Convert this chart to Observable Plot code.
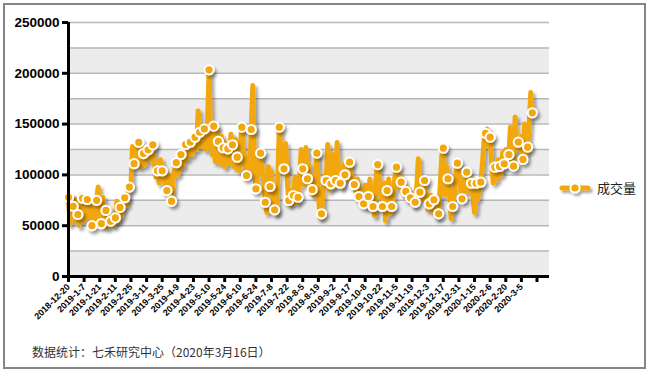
<!DOCTYPE html>
<html>
<head>
<meta charset="utf-8">
<script src="https://cdn.jsdelivr.net/npm/d3@7"></script>
<script src="https://cdn.jsdelivr.net/npm/@observablehq/plot@0.6"></script>
<style>
  html, body { margin: 0; padding: 0; background: #fff; }
  #wrap { position: relative; width: 648px; height: 372px; overflow: hidden; }
  #frame { position: absolute; left: 3px; top: 3px; width: 643px; height: 366px; box-sizing: border-box; border: 2px solid #858585; }
  #chart { position: absolute; left: 0; top: 0; }
  #legend { position: absolute; left: 559px; top: 178px; display: flex; align-items: center; font-family: "Noto Sans CJK SC", sans-serif; font-size: 13px; color: #222; }
  #legend svg { margin-right: 6px; overflow: visible; }
  #caption { position: absolute; left: 32px; top: 343px; font-family: "Noto Sans CJK SC", "Liberation Sans", sans-serif; font-size: 12px; color: #333; }
</style>
</head>
<body>
<div id="wrap">
  <div id="frame"></div>
  <div id="chart"></div>
  <div id="legend"></div>
  <div id="caption"></div>
</div>
<script>
// daily trading volume (成交量), one value per trading day, 2018-12-20 .. 2020-03-16
const volume = [
  78000, 52000, 72000,   69000, 76000, 55000,   61000, 50000, 80000,   77000, 55000, 62000,
  75800, 58000, 70000,   50000, 66000, 55000,   75000, 88000, 60000,   52000, 78000, 50000,
  65000, 48000, 62000,   54500, 60000, 50000,   57800, 74000, 55000,   68000, 60000, 80000,
  77500, 70000, 82000,   88000, 90000, 128000,  111000, 125000, 112000, 132000, 108000, 128000,
  121000, 110000, 126000, 124700, 115000, 120000, 129600, 112000, 98000, 104000, 92000, 115000,
  104000, 96000, 90000,  84600, 100000, 80000,  74100, 95000, 106000,  112000, 100000, 113000,
  120000, 108000, 123000, 130000, 116000, 128000, 132200, 120000, 131000, 137100, 125000, 163000,
  142000, 128000, 140000, 145300, 125000, 150000, 203400, 130000, 120000, 148000, 113000, 146000,
  132900, 112000, 138000, 126700, 108000, 130000, 125700, 112000, 140000, 129600, 108000, 135000,
  117400, 104000, 128000, 147000, 125000, 108000, 99400, 118000, 100000, 144700, 188000, 110000,
  86300, 100000, 112000, 121400, 104000, 95000,  73100, 63000, 108000,  88600, 103000, 75000,
  65600, 62000, 95000,   147000, 125000, 122000, 106000, 131000, 96000,  74800, 71000, 85000,
  79700, 98000, 72000,   78000, 96000, 125000,  106000, 90000, 127000,  96200, 110000, 92000,
  85600, 80000, 100000,  121400, 85000, 58000,  61700, 85000, 100000,  94500, 130000, 85000,
  91200, 120000, 88000,  94500, 132000, 95000,  91800, 88000, 110000,  100100, 95000, 104000,
  112500, 100000, 96000, 90500, 84000, 96000,   78700, 72000, 85000,   71500, 90000, 68000,
  78700, 96000, 74000,   68900, 60000, 100000,  110200, 96000, 80000,  68900, 92000, 55000,
  84600, 96000, 62000,   68900, 80000, 98000,   107600, 88000, 100000, 92800, 82000, 90000,
  83700, 76000, 86000,   77500, 80000, 70000,   73100, 88000, 116000,  83000, 76000, 90000,
  94500, 80000, 66000,   71500, 80000, 64000,   75500, 72000, 58000,   61700, 90000, 118000,
  126300, 80000, 108000, 96200, 84000, 57000,   68900, 80000, 100000,  111500, 107000, 88000,
  76500, 95000, 84000,   102700, 84000, 97000,  91800, 78000, 63000,   91800, 76000, 88000,
  92800, 110000, 132000, 141000, 145000, 128000, 137100, 110000, 92000, 107600, 95000, 115000,
  108300, 100000, 122000, 110900, 125000, 110000, 120000, 147000, 118000, 108600, 157000, 125000,
  132200, 125000, 138000, 115200, 150000, 120000, 127300, 150000, 181000, 161100
];

// category-axis tick labels (every 10 trading days)
const tickLabels = [
  "2018-12-20", "2019-1-7", "2019-1-21", "2019-2-11", "2019-2-25", "2019-3-11",
  "2019-3-25", "2019-4-9", "2019-4-23", "2019-5-10", "2019-5-24", "2019-6-10",
  "2019-6-24", "2019-7-8", "2019-7-22", "2019-8-5", "2019-8-19", "2019-9-2",
  "2019-9-17", "2019-10-8", "2019-10-22", "2019-11-5", "2019-11-19", "2019-12-3",
  "2019-12-17", "2019-12-31", "2020-1-15", "2020-2-6", "2020-2-20", "2020-3-5"
];
const xTicks = d3.range(0, 301, 10);
const xDomain = [0, 308];
const yDomain = [0, 250000];
const yTicks = [0, 50000, 100000, 150000, 200000, 250000];
const gridValues = [25000, 50000, 75000, 100000, 125000, 150000, 175000, 200000, 225000, 250000];
const bandStarts = [0, 50000, 100000, 150000, 200000];
const seriesName = "成交量";
const caption = "数据统计：七禾研究中心（2020年3月16日）";
const orange = "#F2A70E";

const data = volume.map((v, i) => ({i, v}));

const chart = Plot.plot({
  width: 648,
  height: 340,
  marginLeft: 68,
  marginRight: 99,
  marginTop: 22,
  marginBottom: 64,
  style: {fontFamily: "'Liberation Sans', Arial, sans-serif", fontWeight: "bold", fontSize: "13px", color: "#000", background: "transparent"},
  x: {domain: xDomain},
  y: {domain: yDomain},
  marks: [
    Plot.rectY(bandStarts, {y1: d => d, y2: d => d + 25000, fill: "#ececec"}),
    Plot.ruleY(gridValues, {stroke: "#b8b8b8", strokeWidth: 1.5}),
    Plot.line(data, {x: "i", y: "v", stroke: orange, strokeWidth: 5, strokeLinejoin: "round", strokeLinecap: "round"}),
    Plot.dot(data.filter((d, i) => i % 3 === 0), {x: "i", y: "v", r: 4.6, fill: orange, stroke: "#fff", strokeWidth: 2}),
    Plot.ruleX([0], {stroke: "#000", strokeWidth: 3}),
    Plot.ruleY([0], {stroke: "#000", strokeWidth: 3}),
    Plot.axisY({ticks: yTicks, tickSize: 6, tickPadding: 3, strokeWidth: 3, fontSize: 13.5, fontWeight: "bold", tickFormat: d => String(d), label: null}),
    Plot.axisX({ticks: xTicks, tickSize: 6, tickPadding: 3, strokeWidth: 3, tickRotate: -45, fontSize: 9, fontWeight: "bold",
      tickFormat: d => tickLabels[d / 10] ?? "", label: null})
  ]
});

// drop shadow like the original
const ns = "http://www.w3.org/2000/svg";
const defs = document.createElementNS(ns, "defs");
defs.innerHTML = '<filter id="shadow" x="-10%" y="-10%" width="130%" height="130%"><feDropShadow dx="2.5" dy="3" stdDeviation="1.5" flood-color="#000" flood-opacity="0.35"/></filter>';
chart.insertBefore(defs, chart.firstChild);
const lineG = chart.querySelector('g[aria-label="line"]');
if (lineG) lineG.setAttribute("filter", "url(#shadow)");
const dotG = chart.querySelector('g[aria-label="dot"]');
if (dotG) dotG.setAttribute("filter", "url(#shadow)");

document.getElementById("chart").appendChild(chart);

// legend
const legend = document.getElementById("legend");
legend.innerHTML = `<svg width="32" height="16"><defs><filter id="shadow2" x="-20%" y="-40%" width="150%" height="200%"><feDropShadow dx="2" dy="2.5" stdDeviation="1.3" flood-color="#000" flood-opacity="0.35"/></filter></defs>
  <g filter="url(#shadow2)"><line x1="3" y1="8" x2="29" y2="8" stroke="${orange}" stroke-width="5" stroke-linecap="round"/>
  <circle cx="16" cy="8" r="4.6" fill="${orange}" stroke="#fff" stroke-width="2"/></g></svg><span>${seriesName}</span>`;
document.getElementById("caption").textContent = caption;
</script>
</body>
</html>
